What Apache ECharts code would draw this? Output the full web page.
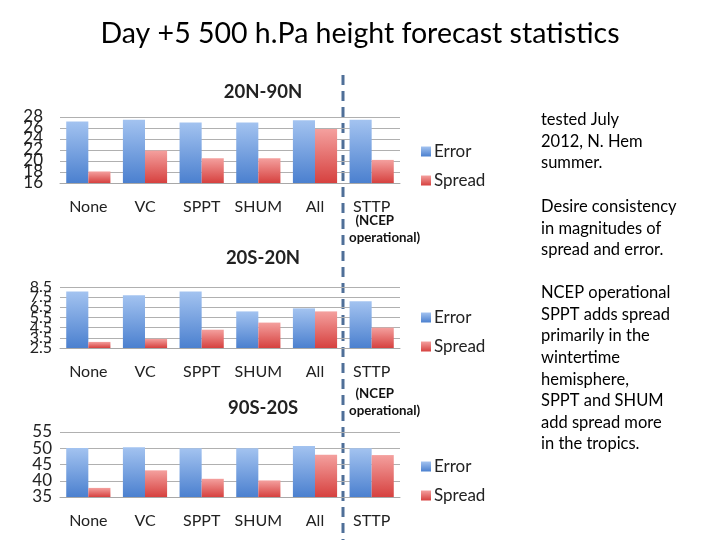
<!DOCTYPE html>
<html><head><meta charset="utf-8">
<script src="https://cdn.jsdelivr.net/npm/echarts@6/dist/echarts.min.js"></script>
<style>html,body{margin:0;padding:0;background:#fff}#c{width:720px;height:540px}</style>
</head><body><div id="c"></div>
<script>
const categories = ['None','VC','SPPT','SHUM','All','STTP'];
const panelTitles = ['20N-90N','20S-20N','90S-20S'];
const error1 = [27.2,27.5,27.0,27.0,27.4,27.5];
const spread1 = [18.1,21.9,20.5,20.5,25.8,20.2];
const error2 = [8.05,7.7,8.05,6.1,6.4,7.1];
const spread2 = [3.1,3.4,4.3,5.0,6.1,4.5];
const error3 = [50.1,50.3,50.0,50.0,50.7,50.0];
const spread3 = [37.8,43.2,40.6,40.1,48.0,47.9];
const yRanges = [[16,28,2],[2.5,8.5,1],[35,55,5]];

const FONT = 'Lato, "Open Sans", sans-serif';
const chart = echarts.init(document.getElementById('c'));
const blue = new echarts.graphic.LinearGradient(0,0,0,1,[{offset:0,color:'#a3c3f0'},{offset:1,color:'#4b80cf'}]);
const red = new echarts.graphic.LinearGradient(0,0,0,1,[{offset:0,color:'#f4a09e'},{offset:1,color:'#d6413f'}]);

const grids = [
  {left:60,right:320,top:117,height:66},
  {left:60,right:320,top:287,height:61},
  {left:60,right:320,top:432,height:65}
];
const titleY = [78,244,394];
const legendTop = [138,304,453];
const xAxes = [], yAxes = [], series = [], legends = [], titles = [];
const errs = [error1,error2,error3], sprs = [spread1,spread2,spread3];
titles.push({text:'Day +5 500 h.Pa height forecast statistics',left:'center',top:14,
  textStyle:{fontFamily:FONT,fontSize:28.5,fontWeight:'normal',color:'#000'}});
for (let i=0;i<3;i++){
  const [mn,mx,step] = yRanges[i];
  titles.push({text:panelTitles[i],left:258,top:titleY[i],textAlign:'center',
    textStyle:{fontFamily:FONT,fontSize:18.5,fontWeight:'bold',color:'#222'}});
  xAxes.push({type:'category',gridIndex:i,data:categories,
    axisLine:{lineStyle:{color:'#a8a8a8'}},axisTick:{show:false},
    axisLabel:{interval:0,hideOverlap:false,fontFamily:FONT,fontSize:16,color:'#222',margin:16}});
  for (let parity=0; parity<2; parity++){
    yAxes.push({type:'value',gridIndex:i,position:'left',offset:0,min:mn,max:mx,interval:step,
      axisLine:{show:false},axisTick:{show:false},
      splitLine:{show:parity===0,lineStyle:{color:'#b0b0b0'}},
      axisLabel:{showMinLabel:true,showMaxLabel:true,fontFamily:FONT,
        fontSize:i===1?16:17,color:'#222',margin:i===0?17:8,
        formatter:(v)=>{const k=Math.round((v-mn)/step);return (k%2===parity)?String(v):'';}}});
  }
  series.push({name:'Error',type:'bar',xAxisIndex:i,yAxisIndex:2*i,data:errs[i],
    itemStyle:{color:blue},barGap:'0%',barCategoryGap:'22%'});
  series.push({name:'Spread',type:'bar',xAxisIndex:i,yAxisIndex:2*i,data:sprs[i],
    itemStyle:{color:red},barGap:'0%',barCategoryGap:'22%'});
  legends.push({data:['Error','Spread'],orient:'vertical',left:416,top:legendTop[i],itemGap:12,
    icon:'rect',itemWidth:10,itemHeight:10,selectedMode:false,
    textStyle:{fontFamily:FONT,fontSize:17,color:'#222',padding:[0,0,0,-2]}});
}
const txt = (x,y,t,o)=>Object.assign({type:'text',left:x,top:y,style:{text:t,fontFamily:FONT,fontSize:16.5,lineHeight:21.6,fill:'#000'}},o||{});
const graphic = [
  {type:'line',shape:{x1:343,y1:75,x2:343,y2:540},style:{stroke:'#4f6f98',lineWidth:3,lineDash:[10,6]}},
  {type:'text',left:349,top:212,style:{text:'  (NCEP\noperational)',fontFamily:FONT,fontSize:13.3,fontWeight:'bold',lineHeight:17,fill:'#111'}},
  {type:'text',left:349,top:385,style:{text:'  (NCEP\noperational)',fontFamily:FONT,fontSize:13.3,fontWeight:'bold',lineHeight:17,fill:'#111'}},
  txt(541,109,'tested July\n2012, N. Hem\nsummer.'),
  txt(541,196,'Desire consistency\nin magnitudes of\nspread and error.'),
  txt(541,282,'NCEP operational\nSPPT adds spread\nprimarily in the\nwintertime\nhemisphere,\nSPPT and SHUM\nadd spread more\nin the tropics.')
];
chart.setOption({animation:false,title:titles,grid:grids,xAxis:xAxes,yAxis:yAxes,series:series,legend:legends,graphic:graphic});
</script></body></html>
